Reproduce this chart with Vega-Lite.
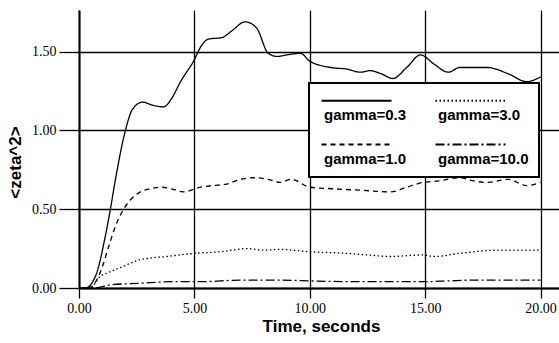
{
  "$schema": "https://vega.github.io/schema/vega-lite/v6.json",
  "width": 480,
  "height": 278,
  "autosize": {"type": "none"},
  "padding": {"left": 79, "top": 10, "right": 0, "bottom": 55},
  "background": "white",
  "config": {"view": {"stroke": null}},
  "datasets": {
    "curves": [
      {"t": 0, "v": 0, "g": "gamma=0.3"},
      {"t": 0.3, "v": 0.0, "g": "gamma=0.3"},
      {"t": 0.55, "v": 0.03, "g": "gamma=0.3"},
      {"t": 0.8, "v": 0.11, "g": "gamma=0.3"},
      {"t": 1.1, "v": 0.3, "g": "gamma=0.3"},
      {"t": 1.36, "v": 0.5, "g": "gamma=0.3"},
      {"t": 1.58, "v": 0.69, "g": "gamma=0.3"},
      {"t": 2.01, "v": 1.0, "g": "gamma=0.3"},
      {"t": 2.3, "v": 1.13, "g": "gamma=0.3"},
      {"t": 2.75, "v": 1.18, "g": "gamma=0.3"},
      {"t": 3.2, "v": 1.16, "g": "gamma=0.3"},
      {"t": 3.67, "v": 1.15, "g": "gamma=0.3"},
      {"t": 4.0, "v": 1.2, "g": "gamma=0.3"},
      {"t": 4.4, "v": 1.31, "g": "gamma=0.3"},
      {"t": 5.0, "v": 1.45, "g": "gamma=0.3"},
      {"t": 5.27, "v": 1.53, "g": "gamma=0.3"},
      {"t": 5.6, "v": 1.58, "g": "gamma=0.3"},
      {"t": 6.2, "v": 1.59, "g": "gamma=0.3"},
      {"t": 6.6, "v": 1.63, "g": "gamma=0.3"},
      {"t": 7.2, "v": 1.69, "g": "gamma=0.3"},
      {"t": 7.7, "v": 1.65, "g": "gamma=0.3"},
      {"t": 8.2, "v": 1.49, "g": "gamma=0.3"},
      {"t": 8.6, "v": 1.47, "g": "gamma=0.3"},
      {"t": 9.0, "v": 1.48, "g": "gamma=0.3"},
      {"t": 9.6, "v": 1.49, "g": "gamma=0.3"},
      {"t": 10.0, "v": 1.44, "g": "gamma=0.3"},
      {"t": 10.9, "v": 1.4, "g": "gamma=0.3"},
      {"t": 11.6, "v": 1.39, "g": "gamma=0.3"},
      {"t": 12.2, "v": 1.37, "g": "gamma=0.3"},
      {"t": 12.6, "v": 1.38, "g": "gamma=0.3"},
      {"t": 13.1, "v": 1.36, "g": "gamma=0.3"},
      {"t": 13.6, "v": 1.33, "g": "gamma=0.3"},
      {"t": 14.2, "v": 1.4, "g": "gamma=0.3"},
      {"t": 14.8, "v": 1.48, "g": "gamma=0.3"},
      {"t": 15.4, "v": 1.42, "g": "gamma=0.3"},
      {"t": 16.0, "v": 1.37, "g": "gamma=0.3"},
      {"t": 16.5, "v": 1.4, "g": "gamma=0.3"},
      {"t": 17.1, "v": 1.4, "g": "gamma=0.3"},
      {"t": 17.7, "v": 1.4, "g": "gamma=0.3"},
      {"t": 18.6, "v": 1.36, "g": "gamma=0.3"},
      {"t": 19.4, "v": 1.31, "g": "gamma=0.3"},
      {"t": 20.0, "v": 1.34, "g": "gamma=0.3"},

      {"t": 0, "v": 0, "g": "gamma=1.0"},
      {"t": 0.5, "v": 0.005, "g": "gamma=1.0"},
      {"t": 0.8, "v": 0.06, "g": "gamma=1.0"},
      {"t": 1.0, "v": 0.13, "g": "gamma=1.0"},
      {"t": 1.3, "v": 0.27, "g": "gamma=1.0"},
      {"t": 1.6, "v": 0.4, "g": "gamma=1.0"},
      {"t": 1.93, "v": 0.5, "g": "gamma=1.0"},
      {"t": 2.23, "v": 0.56, "g": "gamma=1.0"},
      {"t": 2.66, "v": 0.61, "g": "gamma=1.0"},
      {"t": 3.1, "v": 0.63, "g": "gamma=1.0"},
      {"t": 3.53, "v": 0.64, "g": "gamma=1.0"},
      {"t": 4.0, "v": 0.63, "g": "gamma=1.0"},
      {"t": 4.5, "v": 0.61, "g": "gamma=1.0"},
      {"t": 5.27, "v": 0.64, "g": "gamma=1.0"},
      {"t": 5.8, "v": 0.65, "g": "gamma=1.0"},
      {"t": 6.4, "v": 0.66, "g": "gamma=1.0"},
      {"t": 7.0, "v": 0.69, "g": "gamma=1.0"},
      {"t": 7.6, "v": 0.7, "g": "gamma=1.0"},
      {"t": 8.2, "v": 0.69, "g": "gamma=1.0"},
      {"t": 8.7, "v": 0.67, "g": "gamma=1.0"},
      {"t": 9.2, "v": 0.69, "g": "gamma=1.0"},
      {"t": 10.0, "v": 0.64, "g": "gamma=1.0"},
      {"t": 11.0, "v": 0.63, "g": "gamma=1.0"},
      {"t": 12.3, "v": 0.62, "g": "gamma=1.0"},
      {"t": 13.5, "v": 0.61, "g": "gamma=1.0"},
      {"t": 14.2, "v": 0.64, "g": "gamma=1.0"},
      {"t": 14.9, "v": 0.67, "g": "gamma=1.0"},
      {"t": 15.6, "v": 0.68, "g": "gamma=1.0"},
      {"t": 16.5, "v": 0.7, "g": "gamma=1.0"},
      {"t": 17.1, "v": 0.68, "g": "gamma=1.0"},
      {"t": 17.7, "v": 0.67, "g": "gamma=1.0"},
      {"t": 18.6, "v": 0.69, "g": "gamma=1.0"},
      {"t": 19.4, "v": 0.65, "g": "gamma=1.0"},
      {"t": 20.0, "v": 0.67, "g": "gamma=1.0"},

      {"t": 0, "v": 0, "g": "gamma=3.0"},
      {"t": 0.5, "v": 0.005, "g": "gamma=3.0"},
      {"t": 0.93, "v": 0.075, "g": "gamma=3.0"},
      {"t": 1.3, "v": 0.1, "g": "gamma=3.0"},
      {"t": 1.8, "v": 0.13, "g": "gamma=3.0"},
      {"t": 2.66, "v": 0.18, "g": "gamma=3.0"},
      {"t": 3.8, "v": 0.2, "g": "gamma=3.0"},
      {"t": 5.0, "v": 0.22, "g": "gamma=3.0"},
      {"t": 6.1, "v": 0.23, "g": "gamma=3.0"},
      {"t": 7.3, "v": 0.25, "g": "gamma=3.0"},
      {"t": 8.0, "v": 0.24, "g": "gamma=3.0"},
      {"t": 8.7, "v": 0.245, "g": "gamma=3.0"},
      {"t": 10.0, "v": 0.23, "g": "gamma=3.0"},
      {"t": 11.6, "v": 0.22, "g": "gamma=3.0"},
      {"t": 12.5, "v": 0.21, "g": "gamma=3.0"},
      {"t": 13.5, "v": 0.2, "g": "gamma=3.0"},
      {"t": 14.9, "v": 0.21, "g": "gamma=3.0"},
      {"t": 15.4, "v": 0.2, "g": "gamma=3.0"},
      {"t": 16.5, "v": 0.22, "g": "gamma=3.0"},
      {"t": 18.1, "v": 0.24, "g": "gamma=3.0"},
      {"t": 19.0, "v": 0.24, "g": "gamma=3.0"},
      {"t": 20.0, "v": 0.24, "g": "gamma=3.0"},

      {"t": 0, "v": 0, "g": "gamma=10.0"},
      {"t": 0.8, "v": 0.003, "g": "gamma=10.0"},
      {"t": 1.36, "v": 0.02, "g": "gamma=10.0"},
      {"t": 2.66, "v": 0.03, "g": "gamma=10.0"},
      {"t": 4.1, "v": 0.04, "g": "gamma=10.0"},
      {"t": 5.3, "v": 0.04, "g": "gamma=10.0"},
      {"t": 7.0, "v": 0.05, "g": "gamma=10.0"},
      {"t": 8.7, "v": 0.05, "g": "gamma=10.0"},
      {"t": 10.0, "v": 0.045, "g": "gamma=10.0"},
      {"t": 12.0, "v": 0.04, "g": "gamma=10.0"},
      {"t": 13.5, "v": 0.04, "g": "gamma=10.0"},
      {"t": 15.0, "v": 0.04, "g": "gamma=10.0"},
      {"t": 16.0, "v": 0.045, "g": "gamma=10.0"},
      {"t": 17.0, "v": 0.05, "g": "gamma=10.0"},
      {"t": 18.5, "v": 0.05, "g": "gamma=10.0"},
      {"t": 20.0, "v": 0.05, "g": "gamma=10.0"}
    ]
  },
  "layer": [
    {
      "data": {"name": "curves"},
      "mark": {"type": "line", "interpolate": "monotone", "strokeWidth": 1.3, "color": "black"},
      "encoding": {
        "x": {
          "field": "t", "type": "quantitative",
          "scale": {"domain": [0, 20.8], "nice": false, "zero": false},
          "axis": {
            "values": [0, 5, 10, 15, 20], "format": ".2f",
            "grid": true, "gridColor": "black", "gridWidth": 1.3, "gridOpacity": 1,
            "domainColor": "black", "domainWidth": 2,
            "tickColor": "black", "tickSize": 10, "tickWidth": 1.3,
            "labelFont": "Liberation Serif", "labelFontSize": 14, "labelColor": "black",
            "labelPadding": 3, "labelFlush": false,
            "title": "Time, seconds", "titleFont": "Liberation Sans", "titleFontSize": 17,
            "titleFontWeight": "bold", "titleColor": "black",
            "titleX": 242, "titleY": 43, "titleAlign": "center", "titleBaseline": "alphabetic"
          }
        },
        "y": {
          "field": "v", "type": "quantitative",
          "scale": {"domain": [0, 1.765], "nice": false},
          "axis": {
            "values": [0, 0.5, 1, 1.5], "format": ".2f",
            "grid": true, "gridColor": "black", "gridWidth": 1.3, "gridOpacity": 1,
            "domainColor": "black", "domainWidth": 2,
            "tickColor": "black", "tickSize": 20, "tickWidth": 1.3,
            "labelFont": "Liberation Serif", "labelFontSize": 14, "labelColor": "black",
            "labelPadding": 3, "labelFlush": false,
            "title": "<zeta^2>", "titleFont": "Liberation Sans", "titleFontSize": 17,
            "titleFontWeight": "bold", "titleColor": "black",
            "titleX": -64, "titleY": 152, "titleAngle": -90, "titleAlign": "center", "titleBaseline": "middle"
          }
        },
        "strokeDash": {
          "field": "g", "type": "nominal",
          "scale": {
            "domain": ["gamma=0.3", "gamma=1.0", "gamma=3.0", "gamma=10.0"],
            "range": [[1, 0], [5, 4], [1.5, 2.5], [9, 3, 2, 3]]
          },
          "legend": {
            "orient": "none", "legendX": 230, "legendY": 73,
            "columns": 2, "columnPadding": 24, "rowPadding": 14, "padding": 10,
            "title": null,
            "symbolType": "M-1,0L13,0", "symbolSize": 100, "symbolStrokeWidth": 2,
            "symbolStrokeColor": "black", "symbolFillColor": "transparent",
            "labelFont": "Liberation Sans", "labelFontSize": 15, "labelFontWeight": "bold",
            "labelColor": "black", "labelOffset": -10, "labelBaseline": "top", "labelLimit": 200,
            "strokeColor": "black", "fillColor": "white",
            "encode": {
              "labels": {"update": {"dy": {"value": 7}}},
              "legend": {"update": {"strokeWidth": {"value": 2}}}
            }
          }
        }
      }
    },
    {
      "mark": {"type": "point", "shape": "triangle-up", "filled": true, "color": "black", "size": 50, "opacity": 1},
      "encoding": {"x": {"datum": 0, "type": "quantitative"}, "y": {"datum": 1.765, "type": "quantitative"}}
    },
    {
      "mark": {"type": "point", "shape": "triangle-right", "filled": true, "color": "black", "size": 50, "opacity": 1},
      "encoding": {"x": {"datum": 20.6, "type": "quantitative"}, "y": {"datum": 0, "type": "quantitative"}}
    }
  ]
}
